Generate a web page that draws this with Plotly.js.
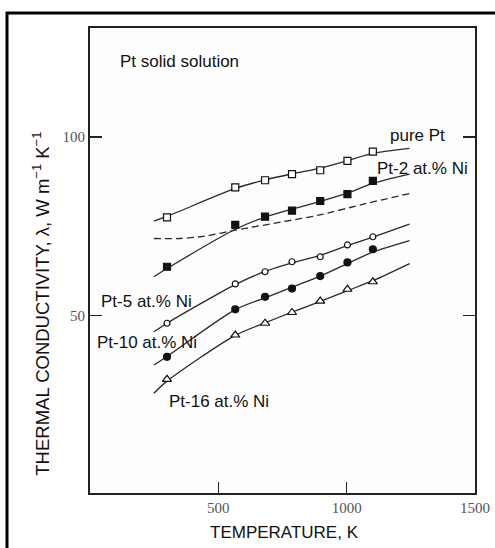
<!DOCTYPE html>
<html>
<head>
<meta charset="utf-8">
<script src="https://cdn.plot.ly/plotly-3.0.1.min.js"></script>
<style>html,body{margin:0;padding:0;background:#fff;}#chart{width:495px;height:548px;}</style>
</head>
<body>
<div id="chart"></div>
<script>
// Marker temperatures (K)
const temps = [300, 566, 682, 787, 897, 1003, 1102];
// Measured conductivities (W m-1 K-1)
const purePt = [77.5, 85.9, 87.9, 89.6, 90.7, 93.3, 95.9];
const ptNi2 = [63.7, 75.4, 77.7, 79.4, 82.1, 84.0, 87.7];
const ptNi5 = [47.9, 58.9, 62.3, 65.1, 66.5, 69.8, 72.1];
const ptNi10 = [38.5, 51.8, 55.3, 57.6, 61.1, 64.9, 68.6];
const ptNi16 = [32.2, 44.6, 47.9, 50.9, 54.1, 57.4, 59.5];

// Fitted curves
const curveT = [249, 300, 566, 682, 787, 897, 1003, 1102, 1245];
const curvePure = [76.5, 77.8, 85.6, 88.0, 89.7, 91.3, 93.4, 95.4, 96.8];
const curveNi2 = [60.9, 63.2, 74.2, 77.6, 79.8, 82.0, 84.3, 87.0, 89.6];
const curveNi5 = [45.5, 47.9, 58.7, 62.4, 64.8, 66.9, 69.6, 72.0, 75.6];
const curveNi10 = [36.2, 38.6, 51.7, 55.0, 58.0, 61.1, 64.6, 67.8, 71.0];
const curveNi16 = [28.3, 31.7, 44.5, 48.0, 51.0, 54.0, 57.0, 59.8, 64.6];
const dashT = [249, 350, 450, 571, 752, 895, 1076, 1245];
const dashY = [71.6, 71.6, 72.3, 74.0, 76.3, 78.2, 81.4, 84.2];

const labels = ["pure Pt", "Pt-2 at.% Ni", "Pt-5 at.% Ni", "Pt-10 at.% Ni", "Pt-16 at.% Ni"];
const xTicks = [500, 1000, 1500];
const yTicks = [50, 100];

const lineStyle = {color: '#2a2a2a', width: 1.3, shape: 'spline', smoothing: 0.8};
const curves = [curvePure, curveNi2, curveNi5, curveNi10, curveNi16];
const series = [purePt, ptNi2, ptNi5, ptNi10, ptNi16];
const symbols = ['square-open', 'square', 'circle-open', 'circle', 'triangle-up-open'];
const sizes = [7, 7, 6, 7, 8];

const lineTr = curves.map(c => ({x: curveT, y: c, mode: 'lines', line: lineStyle, showlegend: false}));
lineTr.push({x: dashT, y: dashY, mode: 'lines', line: {color: '#2a2a2a', width: 1.3, dash: '7px,4px', shape: 'spline', smoothing: 0.8}, showlegend: false});

// white underlay for open markers
const fillTr = [0, 2, 4].map(idx => ({x: temps, y: series[idx], mode: 'markers', showlegend: false,
  marker: {symbol: ['square', 'circle', 'triangle-up'][[0, 2, 4].indexOf(idx)], size: sizes[idx] - 1, color: '#fff'}}));

const markTr = series.map((s, i) => ({x: temps, y: s, mode: 'markers', name: labels[i], showlegend: false,
  marker: {symbol: symbols[i], size: sizes[i], color: '#111', line: {color: '#111', width: 1.2}}}));

const txtFont = {family: 'Liberation Sans, Arial, sans-serif', size: 17, color: '#111'};
const layout = {
  width: 495, height: 548,
  margin: {l: 90, r: 20, t: 28, b: 55},
  paper_bgcolor: '#fff', plot_bgcolor: '#fdfdfd',
  showlegend: false,
  xaxis: {range: [0, 1500], tickvals: xTicks, ticktext: xTicks.map(String),
    ticks: 'inside', ticklen: 11, tickwidth: 1.5, tickcolor: '#222',
    showline: true, linewidth: 2, linecolor: '#222', mirror: true,
    showgrid: false, zeroline: false,
    tickfont: {family: 'Liberation Serif, Times New Roman, serif', size: 15, color: '#555'}},
  yaxis: {range: [0.4, 130.5], tickvals: yTicks, ticktext: yTicks.map(String),
    ticks: 'inside', ticklen: 12, tickwidth: 1.5, tickcolor: '#222',
    showline: true, linewidth: 2, linecolor: '#222', mirror: 'ticks',
    showgrid: false, zeroline: false,
    tickfont: {family: 'Liberation Serif, Times New Roman, serif', size: 15, color: '#555'}},
  annotations: [
    {text: 'Pt solid solution', x: 109, y: 121, xref: 'x', yref: 'y', xanchor: 'left', yanchor: 'middle', showarrow: false, font: txtFont, bgcolor: '#fff'},
    {text: labels[0], x: 1161, y: 100.5, xref: 'x', yref: 'y', xanchor: 'left', yanchor: 'middle', showarrow: false, font: txtFont},
    {text: labels[1], x: 1112, y: 91.2, xref: 'x', yref: 'y', xanchor: 'left', yanchor: 'middle', showarrow: false, font: txtFont},
    {text: labels[2], x: 35, y: 54.1, xref: 'x', yref: 'y', xanchor: 'left', yanchor: 'middle', showarrow: false, font: txtFont},
    {text: labels[3], x: 19, y: 42.6, xref: 'x', yref: 'y', xanchor: 'left', yanchor: 'middle', showarrow: false, font: txtFont},
    {text: labels[4], x: 300, y: 26.1, xref: 'x', yref: 'y', xanchor: 'left', yanchor: 'middle', showarrow: false, font: txtFont},
    {text: 'TEMPERATURE, K', x: 0.504, y: -0.086, xref: 'paper', yref: 'paper', xanchor: 'center', yanchor: 'middle', showarrow: false, font: txtFont},
    {text: 'THERMAL CONDUCTIVITY, λ, W m<sup>−1</sup> K<sup>−1</sup>', x: -0.126, y: 53.5, xref: 'paper', yref: 'y', xanchor: 'center', yanchor: 'middle', textangle: -90, showarrow: false,
     font: {family: 'Liberation Sans, Arial, sans-serif', size: 18.5, color: '#111'}}
  ],
  shapes: [
    {type: 'rect', xref: 'paper', yref: 'paper', x0: -0.2156, x1: 1.1, y0: -0.2, y1: 1.0323,
     line: {color: '#000', width: 3}, fillcolor: 'rgba(0,0,0,0)', layer: 'above'}
  ]
};
Plotly.newPlot('chart', lineTr.concat(fillTr, markTr), layout, {displayModeBar: false, staticPlot: true});
</script>
</body>
</html>
